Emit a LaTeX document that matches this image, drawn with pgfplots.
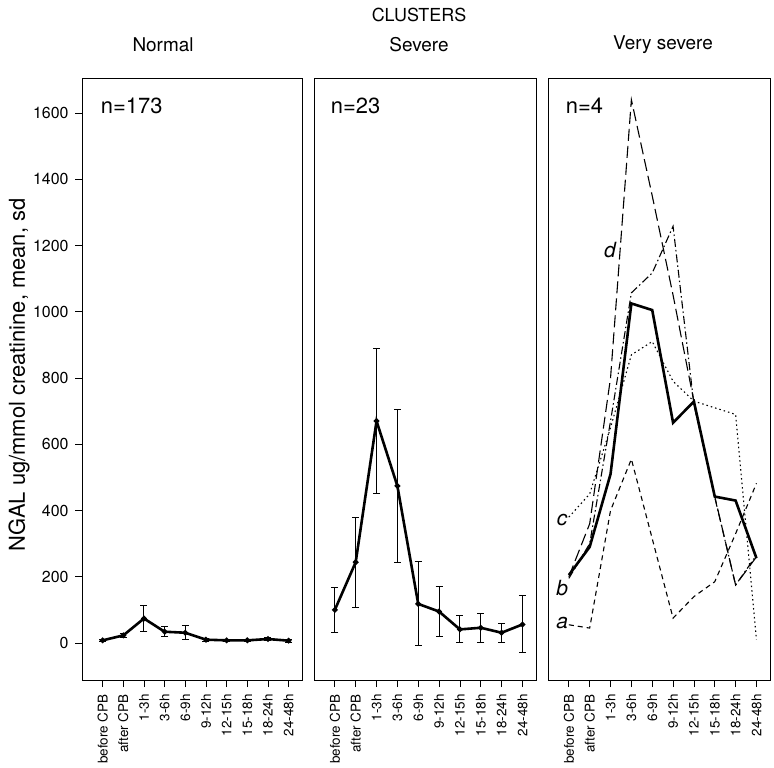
\documentclass[border=0pt]{standalone}
\usepackage{pgfplots}
\pgfplotsset{compat=1.18}
\usepackage{pgfplotstable}
\usepackage{fontspec}
\setmainfont{TeX Gyre Heros}
\setsansfont{TeX Gyre Heros}

\pgfplotstableread{
x y e
0 8 4
1 23 7
2 74 39
3 34 15
4 31 21
5 10 4
6 8 4
7 8 4
8 12 4
9 7 4
}\normaltab

\pgfplotstableread{
x y e
0 100 68
1 244 136
2 670 218
3 474 230
4 118 127
5 95 75
6 41 41
7 46 44
8 31 29
9 56 86
}\severetab

\pgfplotstableread{
x mean a b c d
0 205 55 195 380 200
1 290 45 300 450 360
2 510 400 670 650 800
3 1025 555 1057 870 1640
4 1005 315 1117 910 1350
5 665 75 1258 790 1050
6 729 140 720 730 729
7 442 185 440 710 442
8 430 330 175 690 175
9 256 482 265 10 260
}\vstab

\pgfplotsset{
  panel/.style={
    height=601bp, scale only axis, anchor=south west,
    xmin=-1, xmax=9.65, ymin=-111.7, ymax=1702.6,
    xtick={0,...,9},
    xticklabels={before CPB,after CPB,1-3h,3-6h,6-9h,9-12h,12-15h,15-18h,18-24h,24-48h},
    x tick label style={rotate=90, anchor=east, font=\fontsize{13.5}{13.5}\selectfont},
    xticklabel shift=4bp,
    xtick pos=bottom,
    tick align=outside, major tick length=7bp,
    axis line style={line width=1bp},
    every tick/.style={black, line width=0.8bp},
    clip=false,
    ytick=\empty,
  },
  meanline/.style={black, line width=2.6bp, mark=*, mark size=1.3bp},
  ebar/.style={error bars/.cd, y dir=both, y explicit,
    error bar style={line width=1bp, black},
    error mark options={rotate=90, mark size=3.5bp, line width=1bp, black}},
}

\begin{document}
\begin{tikzpicture}
\path[use as bounding box] (0bp,0bp) rectangle (774bp,768bp);

% Panel 1
\begin{axis}[panel, at={(82bp,88bp)}, width=220bp,
  ytick={0,200,...,1600}, ytick pos=left,
  yticklabel style={font=\fontsize{16}{16}\selectfont, xshift=-3bp, /pgf/number format/assume math mode=true, /pgf/number format/1000 sep={}}]
\addplot[meanline, ebar] table[x=x, y=y, y error=e] {\normaltab};
\node[anchor=west, font=\fontsize{22}{22}\selectfont] at (rel axis cs:0.07,0.955) {n=173};
\end{axis}

% Panel 2
\begin{axis}[panel, at={(314bp,88bp)}, width=222bp]
\addplot[meanline, ebar] table[x=x, y=y, y error=e] {\severetab};
\node[anchor=west, font=\fontsize{22}{22}\selectfont] at (rel axis cs:0.06,0.955) {n=23};
\end{axis}

% Panel 3
\begin{axis}[panel, at={(548bp,88bp)}, width=222bp]
\addplot[black, line width=1.1bp, dash pattern=on 5bp off 4bp] table[x=x, y=a] {\vstab};
\addplot[black, line width=1.1bp, dash pattern=on 8bp off 3bp on 1.5bp off 3bp] table[x=x, y=b] {\vstab};
\addplot[black, line width=1.1bp, dash pattern=on 1.5bp off 3bp] table[x=x, y=c] {\vstab};
\addplot[black, line width=1.1bp, dash pattern=on 12bp off 5bp] table[x=x, y=d] {\vstab};
\addplot[black, line width=2.6bp] table[x=x, y=mean] {\vstab};
\node[font=\fontsize{21}{21}\selectfont\itshape] at (axis cs:-0.32,60) {a};
\node[font=\fontsize{21}{21}\selectfont\itshape] at (axis cs:-0.32,166) {b};
\node[font=\fontsize{21}{21}\selectfont\itshape] at (axis cs:-0.32,371) {c};
\node[font=\fontsize{21}{21}\selectfont\itshape] at (axis cs:1.97,1186) {d};
\node[anchor=west, font=\fontsize{22}{22}\selectfont] at (rel axis cs:0.065,0.955) {n=4};
\end{axis}

% Titles and y label
\node[font=\fontsize{19}{19}\selectfont] at (163bp,723bp) {Normal};
\node[font=\fontsize{19}{19}\selectfont] at (419bp,723bp) {Severe};
\node[font=\fontsize{19}{19}\selectfont] at (663bp,723bp) {Very severe};
\node[font=\fontsize{18}{18}\selectfont] at (419bp,753bp) {CLUSTERS};
\node[rotate=90, font=\fontsize{22}{22}\selectfont] at (19bp,393bp) {NGAL ug/mmol creatinine, mean, sd};
\end{tikzpicture}
\end{document}
